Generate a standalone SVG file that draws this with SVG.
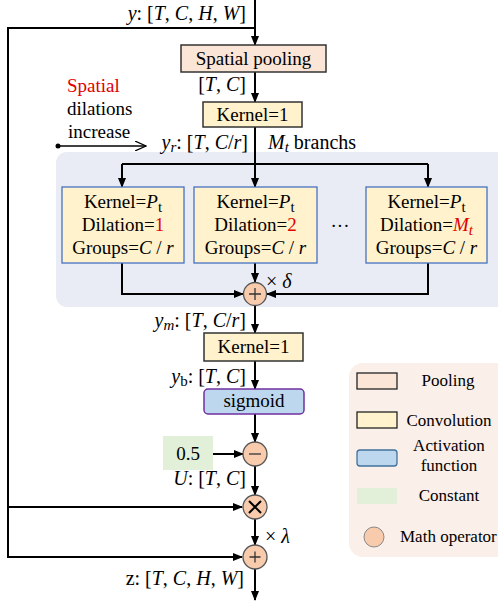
<svg xmlns="http://www.w3.org/2000/svg" width="498" height="601" viewBox="0 0 498 601">
<defs>
<style>
text{font-family:"Liberation Serif","Times New Roman",serif;fill:#000}
.t19{font-size:19px}
.t20{font-size:20px}
.t17{font-size:17px}
.i{font-style:italic}
.red{fill:#e00000}
.ln{fill:none;stroke:#000;stroke-width:2}
.ln1{fill:none;stroke:#000;stroke-width:1.5}
.pool{fill:#fbe5d6;stroke:#333;stroke-width:1.5}
.conv{fill:#fff2cc;stroke:#333;stroke-width:1.5}
.br{fill:#fff2cc;stroke:#4472c4;stroke-width:1.3}
.act{fill:#bdd7ee;stroke:#7030a0;stroke-width:1.5}
.op{fill:#f8cbad;stroke:#555;stroke-width:1.3}
</style>
<marker id="ah" markerWidth="10" markerHeight="8" refX="9" refY="4" orient="auto" markerUnits="userSpaceOnUse">
<path d="M0,0 L10,4 L0,8 Z" fill="#000"/>
</marker>
<marker id="oa" markerWidth="12" markerHeight="10" refX="11" refY="5" orient="auto" markerUnits="userSpaceOnUse">
<path d="M0,0 L11,5 L0,10" fill="none" stroke="#000" stroke-width="1.2"/>
</marker>
<marker id="dot" markerWidth="6" markerHeight="6" refX="3" refY="3" markerUnits="userSpaceOnUse">
<circle cx="3" cy="3" r="2.5" fill="#000"/>
</marker>
</defs>

<rect id="region" x="56" y="152" width="452" height="155" rx="11" fill="#e9ecf4"/>
<rect id="legend-bg" x="349" y="363" width="160" height="194" rx="14" fill="#fbefe9"/>

<g id="connectors">
<path class="ln" d="M255,0 V45" marker-end="url(#ah)"/>
<path class="ln" d="M255,28 H8 V557 H242" marker-end="url(#ah)"/>
<path class="ln" d="M8,507 H242" marker-end="url(#ah)"/>
<path class="ln" d="M255,72 V102" marker-end="url(#ah)"/>
<path class="ln" d="M255,127 V164"/>
<path class="ln" d="M122,164 H428"/>
<path class="ln" d="M122,164 V187" marker-end="url(#ah)"/>
<path class="ln" d="M255,164 V187" marker-end="url(#ah)"/>
<path class="ln" d="M428,164 V187" marker-end="url(#ah)"/>
<path class="ln" d="M122,263 V294 H243" marker-end="url(#ah)"/>
<path class="ln" d="M428,263 V294 H267" marker-end="url(#ah)"/>
<path class="ln" d="M255,263 V282" marker-end="url(#ah)"/>
<path class="ln" d="M255,306 V333" marker-end="url(#ah)"/>
<path class="ln" d="M255,361 V389" marker-end="url(#ah)"/>
<path class="ln" d="M255,414 V442" marker-end="url(#ah)"/>
<path class="ln" d="M213,454 H243" marker-end="url(#ah)"/>
<path class="ln" d="M255,466 V495" marker-end="url(#ah)"/>
<path class="ln" d="M255,519 V545" marker-end="url(#ah)"/>
<path class="ln" d="M255,569 V600" marker-end="url(#ah)"/>
<path class="ln1" d="M58,146 H146" marker-start="url(#dot)" marker-end="url(#oa)"/>
</g>

<g id="pool">
<rect class="pool" x="181" y="45" width="145" height="27"/>
<text class="t19" x="253.5" y="65" text-anchor="middle">Spatial pooling</text>
</g>
<g id="kernel1">
<rect class="conv" x="203" y="102" width="99" height="25"/>
<text class="t19" x="252.5" y="121" text-anchor="middle">Kernel=1</text>
</g>

<g id="branch1">
<rect class="br" x="62" y="187" width="122" height="76"/>
<text class="t19" x="123" y="208" text-anchor="middle">Kernel=<tspan class="i">P</tspan><tspan font-size="15" dy="4">t</tspan></text>
<text class="t19" x="123" y="231" text-anchor="middle">Dilation=<tspan class="red">1</tspan></text>
<text class="t19" x="123" y="254" text-anchor="middle">Groups=<tspan class="i">C</tspan> / <tspan class="i">r</tspan></text>
</g>
<g id="branch2">
<rect class="br" x="194" y="187" width="123" height="76"/>
<text class="t19" x="255.5" y="208" text-anchor="middle">Kernel=<tspan class="i">P</tspan><tspan font-size="15" dy="4">t</tspan></text>
<text class="t19" x="255.5" y="231" text-anchor="middle">Dilation=<tspan class="red">2</tspan></text>
<text class="t19" x="255.5" y="254" text-anchor="middle">Groups=<tspan class="i">C</tspan> / <tspan class="i">r</tspan></text>
</g>
<text class="t19" x="340" y="232" text-anchor="middle">···</text>
<g id="branch3">
<rect class="br" x="366" y="187" width="121" height="76"/>
<text class="t19" x="426.5" y="208" text-anchor="middle">Kernel=<tspan class="i">P</tspan><tspan font-size="15" dy="4">t</tspan></text>
<text class="t19" x="426.5" y="231" text-anchor="middle">Dilation=<tspan class="red i">M</tspan><tspan class="red i" font-size="15" dy="4">t</tspan></text>
<text class="t19" x="426.5" y="254" text-anchor="middle">Groups=<tspan class="i">C</tspan> / <tspan class="i">r</tspan></text>
</g>

<g id="sum1">
<circle class="op" cx="255" cy="294" r="11.5"/>
<path d="M249,294 H261 M255,288 V300" stroke="#333" stroke-width="1.3"/>
</g>
<text class="t20" x="266" y="288">× <tspan class="i">δ</tspan></text>

<g id="kernel2">
<rect class="conv" x="204" y="333" width="99" height="28"/>
<text class="t19" x="253.5" y="353" text-anchor="middle">Kernel=1</text>
</g>
<g id="sigmoid">
<rect class="act" x="204" y="389" width="100" height="25" rx="4"/>
<text class="t19" x="254" y="407" text-anchor="middle">sigmoid</text>
</g>
<g id="const">
<rect x="163" y="436" width="50" height="34" fill="#e2f0d9"/>
<text class="t19" x="188" y="460" text-anchor="middle">0.5</text>
</g>
<g id="minus">
<circle class="op" cx="255" cy="454" r="12"/>
<path d="M249,454 H261" stroke="#333" stroke-width="1.3"/>
</g>
<g id="times">
<circle class="op" cx="255" cy="507" r="12"/>
<path d="M249,501 L261,513 M261,501 L249,513" stroke="#000" stroke-width="2"/>
</g>
<g id="sum2">
<circle class="op" cx="255" cy="557" r="12"/>
<path d="M249.5,557 H260.5 M255,551.5 V562.5" stroke="#333" stroke-width="1.3"/>
</g>
<text class="t20" x="265" y="543">× <tspan class="i">λ</tspan></text>

<g id="labels">
<text class="t20" x="246" y="20" text-anchor="end"><tspan class="i">y</tspan>: [<tspan class="i">T</tspan>, <tspan class="i">C</tspan>, <tspan class="i">H</tspan>, <tspan class="i">W</tspan>]</text>
<text class="t20" x="246" y="91" text-anchor="end">[<tspan class="i">T</tspan>, <tspan class="i">C</tspan>]</text>
<text class="t19" x="67" y="92"><tspan class="red">Spatial</tspan></text>
<text class="t19" x="67" y="115">dilations</text>
<text class="t19" x="68" y="138">increase</text>
<text class="t20" x="248" y="149" text-anchor="end"><tspan class="i">y</tspan><tspan class="i" font-size="15" dy="3">r</tspan><tspan dy="-3">: [</tspan><tspan class="i">T</tspan>, <tspan class="i">C</tspan>/<tspan class="i">r</tspan>]</text>
<text class="t20" x="268" y="149"><tspan class="i">M</tspan><tspan class="i" font-size="15" dy="3">t</tspan><tspan dy="-3"> branchs</tspan></text>
<text class="t20" x="246" y="327" text-anchor="end"><tspan class="i">y</tspan><tspan class="i" font-size="15" dy="3">m</tspan><tspan dy="-3">: [</tspan><tspan class="i">T</tspan>, <tspan class="i">C</tspan>/<tspan class="i">r</tspan>]</text>
<text class="t20" x="246" y="383" text-anchor="end"><tspan class="i">y</tspan><tspan font-size="15" dy="3">b</tspan><tspan dy="-3">: [</tspan><tspan class="i">T</tspan>, <tspan class="i">C</tspan>]</text>
<text class="t20" x="246" y="485" text-anchor="end"><tspan class="i">U</tspan>: [<tspan class="i">T</tspan>, <tspan class="i">C</tspan>]</text>
<text class="t20" x="244" y="585" text-anchor="end">z: [<tspan class="i">T</tspan>, <tspan class="i">C</tspan>, <tspan class="i">H</tspan>, <tspan class="i">W</tspan>]</text>
</g>

<g id="legend">
<rect x="357" y="373" width="40" height="16" fill="#fbe5d6" stroke="#222" stroke-width="1.3"/>
<text class="t17" x="448" y="386" text-anchor="middle">Pooling</text>
<rect x="357" y="412" width="40" height="16" fill="#fff2cc" stroke="#222" stroke-width="1.3"/>
<text class="t17" x="449" y="426" text-anchor="middle">Convolution</text>
<rect x="357" y="450" width="40" height="16" rx="3" fill="#bdd7ee" stroke="#41719c" stroke-width="1.3"/>
<text class="t17" x="449" y="451" text-anchor="middle">Activation</text>
<text class="t17" x="449" y="471" text-anchor="middle">function</text>
<rect x="357" y="488" width="40" height="16" fill="#e2f0d9"/>
<text class="t17" x="449" y="501" text-anchor="middle">Constant</text>
<circle cx="374" cy="537" r="10" fill="#f8cbad" stroke="#888" stroke-width="1"/>
<text class="t17" x="400" y="542">Math operator</text>
</g>
</svg>
